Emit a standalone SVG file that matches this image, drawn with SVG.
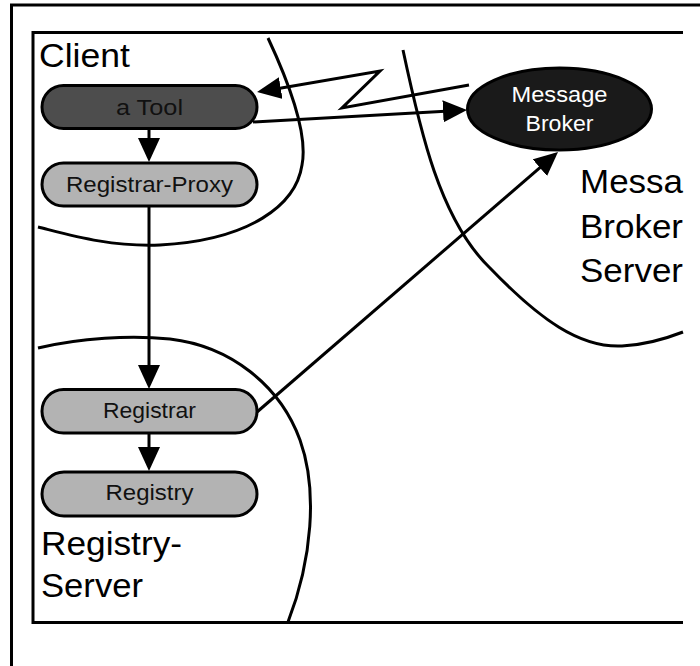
<svg xmlns="http://www.w3.org/2000/svg" width="700" height="666" viewBox="0 0 700 666">
  <style>
    .frame { fill: none; stroke: #000; stroke-width: 3; }
    .zone { fill: none; stroke: #000; stroke-width: 3; }
    .pill { stroke: #000; stroke-width: 3; }
    .light { fill: #b3b3b3; }
    .dark { fill: #4d4d4d; }
    .black { fill: #1a1a1a; }
    .lbl { font-family: "Liberation Sans", Arial, sans-serif; font-size: 22px; fill: #111; text-anchor: middle; }
    .lbl-w { fill: #ffffff; }
    .zone-lbl { font-family: "Liberation Sans", Arial, sans-serif; font-size: 33px; fill: #000; }
    .edge { fill: none; stroke: #000; stroke-width: 3; marker-end: url(#head); }
  </style>
  <defs>
    <marker id="head" viewBox="0 0 24 22" markerWidth="24" markerHeight="22" refX="20" refY="11" orient="auto" markerUnits="userSpaceOnUse">
      <path d="M0,0 L24,11 L0,22 Z" fill="#000"/>
    </marker>
  </defs>

  <rect width="700" height="666" fill="#fff"/>

  <!-- outer page frame (top and left edges) -->
  <path class="frame" d="M11.5,666 V5 H700" stroke-width="2.2"/>
  <!-- deployment area -->
  <path class="frame" d="M683,32.5 H33 V622.5 H683"/>

  <!-- zone boundaries -->
  <g id="zones">
    <path class="zone" d="M268,38 C290,85 308,135 302,165 C296,205 250,240 160,245 C110,247 70,235 38,227"/>
    <path class="zone" d="M38,348 C80,338 130,335 170,339 C230,346 280,385 300,440 C318,490 312,560 288,622"/>
    <path class="zone" d="M403,50 C420,130 440,220 490,268 C540,320 580,348 622,346 C645,345 665,339 683,332"/>
  </g>

  <!-- zone titles -->
  <g id="zone-labels">
    <text class="zone-lbl" x="39" y="67" textLength="91" lengthAdjust="spacingAndGlyphs">Client</text>
    <text class="zone-lbl" x="41" y="555" textLength="141" lengthAdjust="spacingAndGlyphs">Registry-</text>
    <text class="zone-lbl" x="41" y="597" textLength="102" lengthAdjust="spacingAndGlyphs">Server</text>
    <text class="zone-lbl" x="580" y="193" textLength="103" lengthAdjust="spacingAndGlyphs">Messa</text>
    <text class="zone-lbl" x="580" y="238" textLength="103" lengthAdjust="spacingAndGlyphs">Broker</text>
    <text class="zone-lbl" x="580" y="282" textLength="103" lengthAdjust="spacingAndGlyphs">Server</text>
  </g>

  <!-- connectors -->
  <g id="connectors">
    <path class="edge" d="M149,129 V158"/>
    <path class="edge" d="M149,206 V385"/>
    <path class="edge" d="M149,433 V467"/>
    <path class="edge" d="M253,122 L463,110.2"/>
    <path class="edge" d="M469,85 L342,108 L380,71 L261,91.4"/>
    <path class="edge" d="M257,412 L555,154.6"/>
  </g>

  <!-- nodes -->
  <g id="tool">
    <rect class="pill dark" x="42" y="85.5" width="215" height="43" rx="21.5"/>
    <text class="lbl" x="149.5" y="115" textLength="67" lengthAdjust="spacingAndGlyphs">a Tool</text>
  </g>
  <g id="registrar-proxy">
    <rect class="pill light" x="42" y="163" width="215" height="43" rx="21.5"/>
    <text class="lbl" x="149.5" y="192" textLength="167" lengthAdjust="spacingAndGlyphs">Registrar-Proxy</text>
  </g>
  <g id="registrar">
    <rect class="pill light" x="42" y="389.5" width="215" height="43.5" rx="21.5"/>
    <text class="lbl" x="149.5" y="418" textLength="93" lengthAdjust="spacingAndGlyphs">Registrar</text>
  </g>
  <g id="registry">
    <rect class="pill light" x="42" y="472" width="215" height="44" rx="22"/>
    <text class="lbl" x="149.5" y="500" textLength="88" lengthAdjust="spacingAndGlyphs">Registry</text>
  </g>
  <g id="message-broker">
    <ellipse class="pill black" cx="559.5" cy="109" rx="92" ry="41"/>
    <text class="lbl lbl-w" x="559.5" y="102" textLength="96" lengthAdjust="spacingAndGlyphs">Message</text>
    <text class="lbl lbl-w" x="559.5" y="131" textLength="68" lengthAdjust="spacingAndGlyphs">Broker</text>
  </g>
</svg>
